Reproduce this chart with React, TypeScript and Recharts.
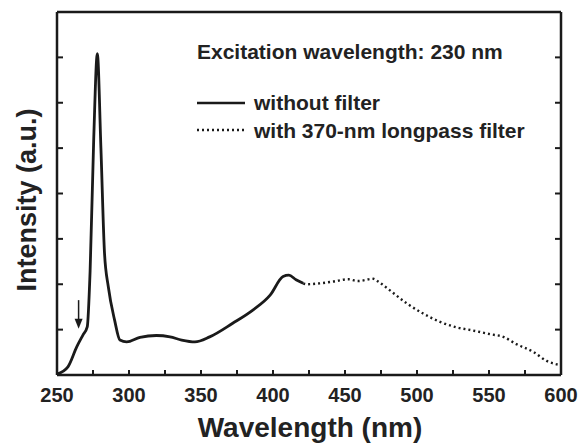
import { LineChart, Line, XAxis, YAxis, ReferenceLine, ReferenceDot, Customized } from 'recharts'

// emission spectrum, excitation at 230 nm
const solidWavelength = [250, 257.6, 263.7, 268, 271, 273, 275.5, 278, 280.5, 283, 285.6, 290, 293.7, 298.4, 307.6, 319, 328.5, 336.6, 345.8, 356, 372, 386, 398, 407, 411, 416, 421]
const solidIntensity = [0.02, 0.18, 0.62, 0.88, 1.06, 2.3, 5.2, 7.08, 5.0, 2.68, 1.95, 1.21, 0.77, 0.73, 0.83, 0.87, 0.84, 0.77, 0.73, 0.84, 1.14, 1.43, 1.76, 2.17, 2.2, 2.1, 2.02]

const dottedWavelength = [421, 423.4, 432.6, 441.9, 452.3, 459, 469.7, 473, 481, 492.8, 504, 516, 527.6, 539, 550.7, 560, 569, 580.8, 590, 599.3]
const dottedIntensity = [2.02, 2.0, 2.02, 2.06, 2.11, 2.07, 2.12, 2.06, 1.87, 1.58, 1.36, 1.17, 1.05, 0.98, 0.9, 0.84, 0.68, 0.51, 0.31, 0.22]

const xTicks = [250, 275, 300, 325, 350, 375, 400, 425, 450, 475, 500, 525, 550, 575, 600]
const yTicks = [0, 1, 2, 3, 4, 5, 6, 7, 8]

const arrowX = 265
const arrowTop = 1.65
const arrowTip = 1.02

const solidData = solidWavelength.map((x, i) => ({ x, y: solidIntensity[i] }))
const dottedData = dottedWavelength.map((x, i) => ({ x, y: dottedIntensity[i] }))

const ink = '#1a1a1a'
const font = '"Liberation Sans", Arial, sans-serif'
const tickStyle = { stroke: ink, strokeWidth: 2 }

// built-in tick lines point inward (negative tickSize); labels only every 50 nm
const BottomLabel = (props: any) => {
  const { x, y, payload } = props
  if (payload.value % 50 !== 0) return <g />
  return (
    <text x={x} y={y + 32} textAnchor="middle" fontFamily={font} fontWeight="bold" fontSize={20} fill="#222">
      {payload.value}
    </text>
  )
}

const LeftTick = (props: any) => {
  const { x, y } = props
  return <path d={`M${x},${y}H${x + 6}`} stroke={ink} strokeWidth={2} fill="none" />
}

const RightTick = (props: any) => {
  const { x, y } = props
  return <path d={`M${x},${y}H${x - 6}`} stroke={ink} strokeWidth={2} fill="none" />
}

const ArrowHead = (props: any) => {
  const { cx, cy } = props
  return <polygon points={`${cx - 4},${cy - 10} ${cx + 4},${cy - 10} ${cx},${cy}`} fill={ink} />
}

const Texts = () => (
  <g fontFamily={font} fontWeight="bold" fill="#222">
    <text x={197} y={59} fontSize={21}>Excitation wavelength: 230 nm</text>
    <line x1={197} x2={245} y1={103} y2={103} stroke={ink} strokeWidth={2.6} />
    <text x={254} y={110} fontSize={21}>without filter</text>
    <line x1={197} x2={245} y1={130} y2={130} stroke={ink} strokeWidth={2.4} strokeDasharray="2 3" />
    <text x={254} y={138} fontSize={21}>with 370-nm longpass filter</text>
    <text x={310} y={437} fontSize={28} textAnchor="middle">Wavelength (nm)</text>
    <text x={36} y={200} fontSize={27} textAnchor="middle" transform="rotate(-90 36 200)">Intensity (a.u.)</text>
  </g>
)

export default function App() {
  return (
    <div style={{ position: 'absolute', left: 0, top: 0, background: '#fff' }}>
      <LineChart width={579} height={444} margin={{ top: 11, right: 17, bottom: 68, left: 56 }}>
        <XAxis type="number" dataKey="x" domain={[250, 600]} ticks={xTicks} interval={0} height={1}
          tickSize={-5} tickMargin={0} tickLine={tickStyle} tick={<BottomLabel />} axisLine={{ stroke: ink, strokeWidth: 2.5 }} />
        <XAxis xAxisId="top" orientation="top" type="number" dataKey="x" domain={[250, 600]} ticks={xTicks} interval={0} height={1}
          tickSize={-5} tickMargin={0} tickLine={tickStyle} tick={false} axisLine={{ stroke: ink, strokeWidth: 2.5 }} />
        <YAxis type="number" domain={[0, 8]} ticks={yTicks} interval={0} width={1}
          tickSize={0} tickMargin={0} tickLine={false} tick={<LeftTick />} axisLine={{ stroke: ink, strokeWidth: 2.5 }} />
        <YAxis yAxisId="right" orientation="right" type="number" domain={[0, 8]} ticks={yTicks} interval={0} width={1}
          tickSize={0} tickMargin={0} tickLine={false} tick={<RightTick />} axisLine={{ stroke: ink, strokeWidth: 2.5 }} />
        <Line data={solidData} dataKey="y" type="monotone" stroke={ink} strokeWidth={2.8} dot={false} isAnimationActive={false} />
        <Line data={dottedData} xAxisId="top" yAxisId="right" dataKey="y" type="monotone" stroke={ink} strokeWidth={2.4}
          strokeDasharray="2 3" dot={false} isAnimationActive={false} />
        <ReferenceLine segment={[{ x: arrowX, y: arrowTop }, { x: arrowX, y: arrowTip + 0.15 }]} stroke={ink} strokeWidth={1.5} />
        <ReferenceDot x={arrowX} y={arrowTip} r={4} shape={<ArrowHead />} />
        <Customized component={Texts} />
      </LineChart>
    </div>
  )
}
